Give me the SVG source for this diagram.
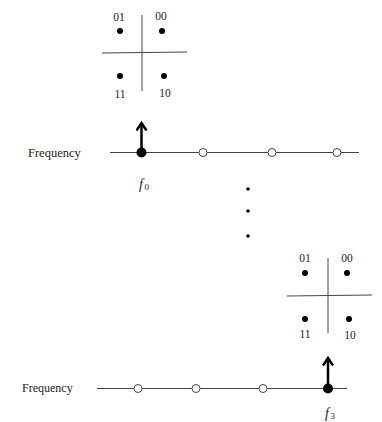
<svg xmlns="http://www.w3.org/2000/svg" width="382" height="422" viewBox="0 0 382 422">
<defs>
<style>
.ax{stroke:#444;stroke-width:1;fill:none}
.pt{fill:#000}
.oc{fill:#fff;stroke:#444;stroke-width:1}
.lb{font-family:"Liberation Serif","Times New Roman",serif;font-size:11.5px;fill:#222;text-anchor:middle}
.fq{font-family:"Liberation Serif","Times New Roman",serif;font-size:12.5px;fill:#222}
.fl{font-family:"Liberation Serif","Times New Roman",serif;font-style:italic;font-size:14px;fill:#222}
.sub{font-size:9px;font-style:normal}
.ar{stroke:#000;stroke-width:2.5;fill:none}
</style>
<marker id="ah" viewBox="0 0 12 12" refX="9.5" refY="6" markerWidth="12" markerHeight="12" orient="auto" markerUnits="userSpaceOnUse">
<path d="M2,1 L9.5,6 L2,11" fill="none" stroke="#000" stroke-width="2.5" stroke-linejoin="miter"/>
</marker>
</defs>
<rect width="382" height="422" fill="#fff"/>
<g id="constellation-top">
<line class="ax" x1="142" y1="15" x2="142" y2="91"/>
<line class="ax" x1="102" y1="53" x2="187" y2="52"/>
<circle class="pt" cx="120" cy="31" r="3"/>
<circle class="pt" cx="162" cy="31" r="3"/>
<circle class="pt" cx="120" cy="76" r="3"/>
<circle class="pt" cx="164" cy="76" r="3"/>
<text class="lb" x="119" y="21">01</text>
<text class="lb" x="161" y="20">00</text>
<text class="lb" x="120" y="98">11</text>
<text class="lb" x="165" y="97">10</text>
</g>
<g id="frequency-top">
<text class="fq" x="28" y="157">Frequency</text>
<line class="ax" x1="110" y1="152.5" x2="359" y2="152.5"/>
<circle class="oc" cx="203" cy="152.5" r="4"/>
<circle class="oc" cx="272" cy="152.5" r="4"/>
<circle class="oc" cx="337" cy="152.5" r="4"/>
<circle class="pt" cx="141.5" cy="152.5" r="5"/>
<text class="fl" x="139" y="189">f<tspan class="sub" dx="1.5" dy="1">0</tspan></text>
</g>
<g id="ellipsis">
<circle class="pt" cx="248" cy="189" r="1.8"/>
<circle class="pt" cx="248" cy="211" r="1.8"/>
<circle class="pt" cx="248" cy="236" r="1.8"/>
</g>
<g id="constellation-bottom">
<line class="ax" x1="328" y1="258" x2="328" y2="333"/>
<line class="ax" x1="287" y1="296" x2="372" y2="295"/>
<circle class="pt" cx="305" cy="273" r="3"/>
<circle class="pt" cx="347" cy="273" r="3"/>
<circle class="pt" cx="305" cy="319" r="3"/>
<circle class="pt" cx="349" cy="319" r="3"/>
<text class="lb" x="305" y="262">01</text>
<text class="lb" x="347" y="262">00</text>
<text class="lb" x="305" y="338">11</text>
<text class="lb" x="350" y="339">10</text>
</g>
<g id="frequency-bottom">
<text class="fq" x="22" y="392" style="font-size:12px">Frequency</text>
<line class="ax" x1="97" y1="388.5" x2="347" y2="388.5"/>
<circle class="oc" cx="138" cy="388.5" r="4"/>
<circle class="oc" cx="196" cy="388.5" r="4"/>
<circle class="oc" cx="263" cy="388.5" r="4"/>
<circle class="pt" cx="328" cy="388.5" r="5"/>
<text class="fl" x="325" y="418">f<tspan class="sub" dx="1.5" dy="1">3</tspan></text>
</g>
<g id="connectors">
<line class="ar" x1="141.5" y1="152" x2="141.5" y2="123" marker-end="url(#ah)"/>
<line class="ar" x1="328" y1="388" x2="328" y2="358" marker-end="url(#ah)"/>
</g>
</svg>
